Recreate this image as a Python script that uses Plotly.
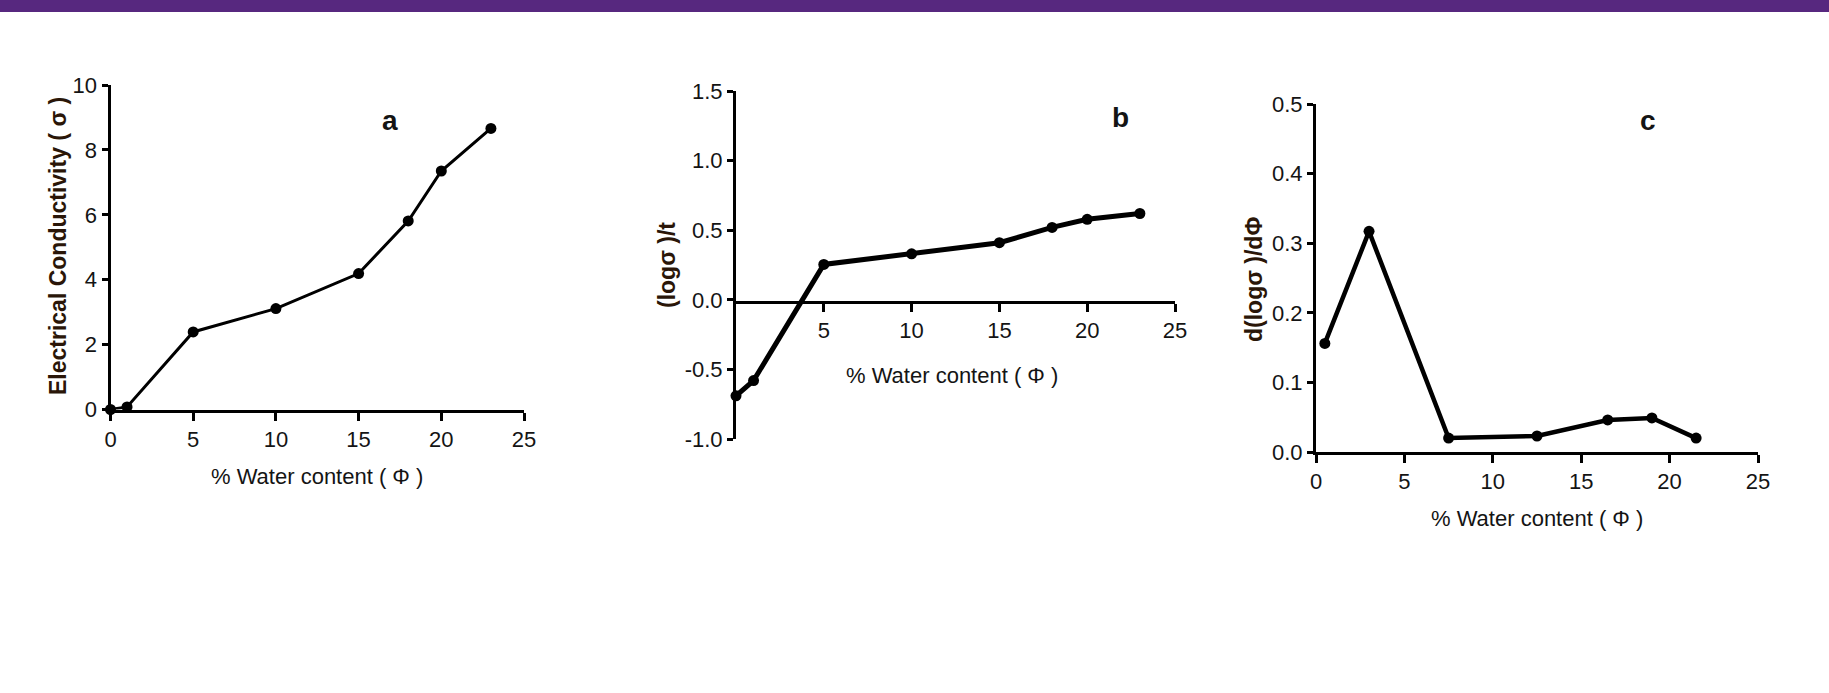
import plotly.graph_objects as go

W, H = 1829, 693

# ---- data ----
water_a = [0, 1, 5, 10, 15, 18, 20, 23]
sigma_a = [0.0, 0.08, 2.39, 3.11, 4.19, 5.81, 7.35, 8.66]

water_b = [0, 1, 5, 10, 15, 18, 20, 23]
logsig_b = [-0.69, -0.58, 0.254, 0.33, 0.41, 0.52, 0.578, 0.62]

water_c = [0.5, 3, 7.5, 12.5, 16.5, 19, 21.5]
dlog_c = [0.156, 0.317, 0.020, 0.023, 0.046, 0.049, 0.020]

ticks_a_x = [0, 5, 10, 15, 20, 25]
ticks_a_y = [0, 2, 4, 6, 8, 10]
ticks_b_x = [5, 10, 15, 20, 25]
ticks_b_y = [-1.0, -0.5, 0.0, 0.5, 1.0, 1.5]
ticklbl_b_y = ["-1.0", "-0.5", "0.0", "0.5", "1.0", "1.5"]
ticks_c_x = [0, 5, 10, 15, 20, 25]
ticks_c_y = [0.0, 0.1, 0.2, 0.3, 0.4, 0.5]
ticklbl_c_y = ["0.0", "0.1", "0.2", "0.3", "0.4", "0.5"]

x_title = "% Water content ( Φ )"
ytitle_a = "Electrical Conductivity ( σ )"
ytitle_b = "(logσ )/t"
ytitle_c = "d(logσ )/dΦ"


def px(x):
    return x / W


def py(y):
    return 1 - y / H


NARROW = "Liberation Sans Narrow, Arial Narrow, Liberation Sans, Arial, sans-serif"
BOLD = "Liberation Sans, Arial, sans-serif"
TXT = "#141414"
tickfont = dict(family=NARROW, size=22, color=TXT)

fig = go.Figure()

fig.add_trace(go.Scatter(x=water_a, y=sigma_a, mode="lines+markers", xaxis="x", yaxis="y",
                         line=dict(color="black", width=3), marker=dict(color="black", size=11),
                         cliponaxis=False, showlegend=False))
fig.add_trace(go.Scatter(x=water_b, y=logsig_b, mode="lines+markers", xaxis="x2", yaxis="y2",
                         line=dict(color="black", width=5), marker=dict(color="black", size=11),
                         cliponaxis=False, showlegend=False))
fig.add_trace(go.Scatter(x=water_c, y=dlog_c, mode="lines+markers", xaxis="x3", yaxis="y3",
                         line=dict(color="black", width=4.5), marker=dict(color="black", size=11),
                         cliponaxis=False, showlegend=False))

axis_common = dict(showgrid=False, zeroline=False, showline=True, linecolor="black", linewidth=3,
                   ticks="outside", tickcolor="black", tickwidth=3, tickfont=tickfont,
                   fixedrange=True, automargin=False)

fig.update_layout(
    width=W, height=H,
    margin=dict(l=0, r=0, t=0, b=0, pad=0, autoexpand=False),
    paper_bgcolor="white", plot_bgcolor="white",
    xaxis=dict(domain=[px(110.5), px(524)], range=[0, 25], anchor="y",
               tickvals=ticks_a_x, ticklen=8, **axis_common),
    yaxis=dict(domain=[py(409.5), py(85)], range=[0, 10], anchor="x",
               tickvals=ticks_a_y, ticklen=6, **axis_common),
    xaxis2=dict(domain=[px(736), px(1175)], range=[0, 25], anchor="free", position=py(301.5),
                tickvals=ticks_b_x, ticklen=8, **axis_common),
    yaxis2=dict(domain=[py(439), py(91)], range=[-1.0, 1.5], anchor="x2",
                tickvals=ticks_b_y, ticktext=ticklbl_b_y, ticklen=6, **axis_common),
    xaxis3=dict(domain=[px(1316), px(1758)], range=[0, 25], anchor="y3",
                tickvals=ticks_c_x, ticklen=8, **axis_common),
    yaxis3=dict(domain=[py(452), py(104)], range=[0, 0.5], anchor="x3",
                tickvals=ticks_c_y, ticktext=ticklbl_c_y, ticklen=6, **axis_common),
    shapes=[dict(type="rect", xref="paper", yref="paper", x0=0, x1=1, y0=py(12), y1=1,
                 fillcolor="#57287f", line=dict(width=0), layer="above")],
)

ann = []
xt_font = dict(family=NARROW, size=22, color=TXT)
for cx, cy in [(317, 476), (952, 375), (1537, 518)]:
    ann.append(dict(text=x_title, x=px(cx), y=py(cy), xref="paper", yref="paper",
                    xanchor="center", yanchor="middle", showarrow=False, font=xt_font))

yt_font = dict(family=BOLD, size=23, color="#2a1608")
for txt, cx, cy in [(ytitle_a, 58, 246), (ytitle_b, 667, 265), (ytitle_c, 1254, 280)]:
    ann.append(dict(text="<b>" + txt + "</b>", x=px(cx), y=py(cy), xref="paper", yref="paper",
                    xanchor="center", yanchor="middle", textangle=-90, showarrow=False,
                    font=yt_font))

lbl_font = dict(family=BOLD, size=28, color=TXT)
for txt, cx, cy in [("a", 390, 120), ("b", 1120, 118), ("c", 1648, 120)]:
    ann.append(dict(text="<b>" + txt + "</b>", x=px(cx), y=py(cy), xref="paper", yref="paper",
                    xanchor="center", yanchor="middle", showarrow=False, font=lbl_font))

fig.update_layout(annotations=ann)

fig.write_html("out.html")
